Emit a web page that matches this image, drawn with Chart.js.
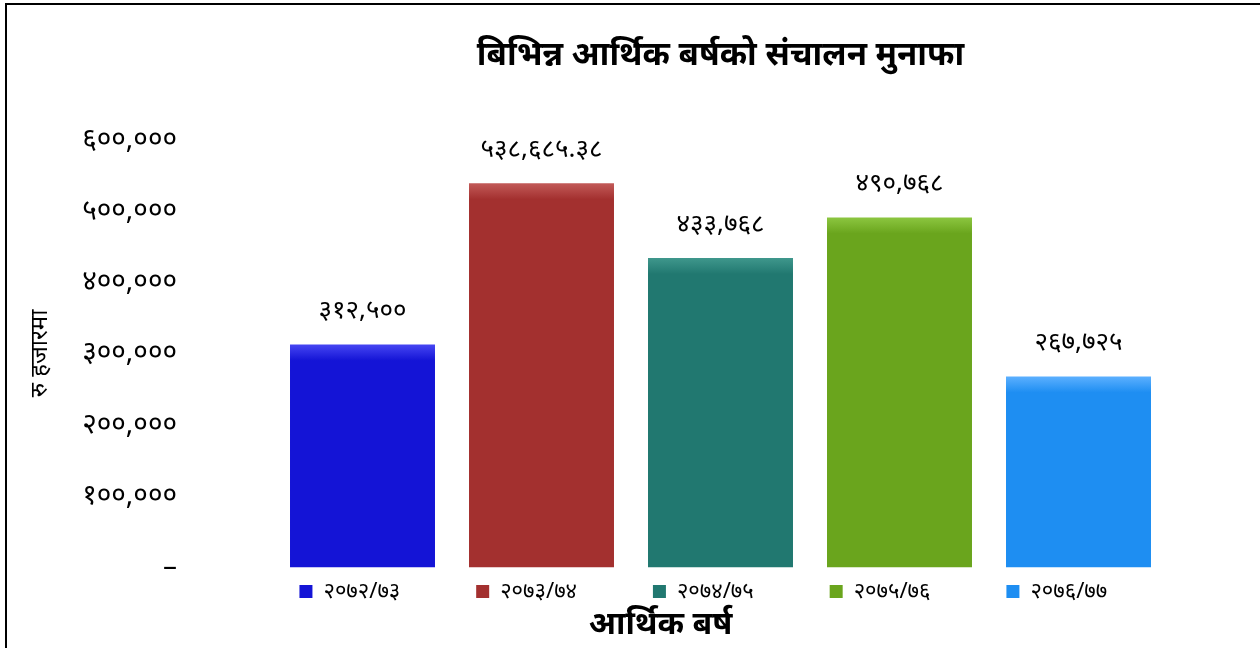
<!DOCTYPE html>
<html>
<head>
<meta charset="utf-8">
<script src="https://cdn.jsdelivr.net/npm/chart.js@4/dist/chart.umd.min.js"></script>
<style>
  html, body { margin: 0; padding: 0; background: #fff; overflow: hidden; }
  #wrap { position: absolute; left: 0; top: 0; width: 1260px; height: 648px; }
  #frame { position: absolute; left: 5px; top: 3px; width: 1300px; height: 700px; border: 2px solid #000; box-sizing: border-box; pointer-events: none; }
</style>
</head>
<body>
<div id="wrap">
  <canvas id="c" width="1260" height="648"></canvas>
  <div id="frame"></div>
</div>
<script>
const titleText = 'बिभिन्न आर्थिक बर्षको संचालन मुनाफा';
const yAxisTitle = 'रु हजारमा';
const xAxisTitle = 'आर्थिक बर्ष';
const categories = ['२०७२/७३', '२०७३/७४', '२०७४/७५', '२०७५/७६', '२०७६/७७'];
const profits = [312500, 538685.38, 433768, 490768, 267725];
const valueLabels = ['३१२,५००', '५३८,६८५.३८', '४३३,७६८', '४९०,७६८', '२६७,७२५'];
const barColors = ['#1414d6', '#a3302f', '#217870', '#6aa51d', '#1e8ef2'];
const barTopColors = ['#4646f2', '#c25a58', '#3f978c', '#8cc640', '#5cb0ff'];
const yMax = 600000;
const yStep = 100000;

const devDigits = '०१२३४५६७८९';
function toDev(s) { return String(s).replace(/[0-9]/g, d => devDigits[+d]); }
function fmtTick(v) {
  if (v === 0) return '–';
  return toDev(Number(v).toLocaleString('en-US'));
}

const FONT = "'Noto Sans', 'DejaVu Sans', sans-serif";

const bevelPlugin = {
  id: 'bevel',
  beforeDatasetsDraw(chart) {
    const ctx = chart.ctx;
    chart.getDatasetMeta(0).data.forEach((bar, i) => {
      const g = ctx.createLinearGradient(0, bar.y, 0, bar.y + 16);
      g.addColorStop(0, barTopColors[i]);
      g.addColorStop(1, barColors[i]);
      bar.options.backgroundColor = g;
    });
  }
};

const valueLabelPlugin = {
  id: 'valueLabels',
  afterDatasetsDraw(chart) {
    const ctx = chart.ctx;
    const meta = chart.getDatasetMeta(0);
    ctx.save();
    ctx.font = '26px ' + FONT;
    ctx.fillStyle = '#000';
    ctx.textAlign = 'center';
    ctx.textBaseline = 'middle';
    meta.data.forEach((bar, i) => {
      ctx.fillText(valueLabels[i], bar.x, bar.y - 34);
    });
    ctx.restore();
  }
};

new Chart(document.getElementById('c'), {
  type: 'bar',
  data: {
    labels: categories,
    datasets: [{
      data: profits,
      backgroundColor: barColors,
      borderWidth: 0,
      categoryPercentage: 1.0,
      barPercentage: 0.81
    }]
  },
  options: {
    responsive: false,
    animation: false,
    layout: { padding: { left: 20, right: 92, top: 0, bottom: 10 } },
    plugins: {
      tooltip: { enabled: false },
      title: {
        display: true,
        text: titleText,
        fullSize: false,
        color: '#000',
        font: { family: FONT, size: 33, weight: 'bold', lineHeight: 1.2 },
        padding: { top: 36, bottom: 64 }
      },
      subtitle: {
        display: true,
        text: '\u00A0'.repeat(16) + xAxisTitle,
        position: 'bottom',
        fullSize: true,
        color: '#000',
        font: { family: FONT, size: 32, weight: 'bold', lineHeight: 0.8 },
        padding: { top: 0, bottom: 0 }
      },
      legend: {
        display: true,
        position: 'bottom',
        fullSize: false,
        labels: {
          boxWidth: 13,
          boxHeight: 13,
          padding: 13,
          color: '#000',
          font: { family: FONT, size: 22 },
          generateLabels(chart) {
            return categories.map((c, i) => ({
              text: i < categories.length - 1 ? c + '\u00A0'.repeat(11) : c + '\u00A0'.repeat(6),
              fillStyle: barColors[i],
              strokeStyle: barColors[i],
              lineWidth: 0,
              hidden: false,
              index: i
            }));
          }
        }
      }
    },
    scales: {
      x: { display: false },
      y: {
        min: 0,
        max: yMax,
        border: { display: false },
        grid: { display: false },
        afterFit(scale) { scale.width = 253; scale.paddingTop = 0; scale.paddingBottom = 0; },
        ticks: {
          stepSize: yStep,
          padding: 88,
          color: '#000',
          font: { family: FONT, size: 28 },
          callback: v => fmtTick(v)
        },
        title: {
          display: true,
          text: yAxisTitle,
          color: '#000',
          font: { family: FONT, size: 24 },
          padding: { top: 6, bottom: 10 }
        }
      }
    }
  },
  plugins: [bevelPlugin, valueLabelPlugin]
});
</script>
</body>
</html>
